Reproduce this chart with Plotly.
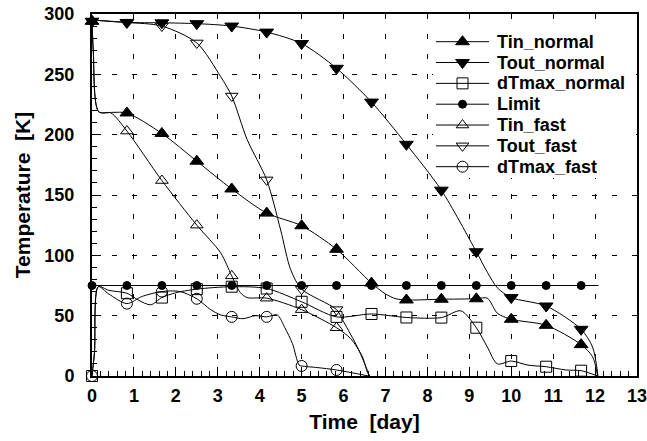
import plotly.graph_objects as go

# Marker positions along the time axis [day] (one marker every 20 h)
MARK_T = [0.0, 0.833, 1.667, 2.5, 3.333, 4.167, 5.0, 5.833, 6.667,
          7.5, 8.333, 9.167, 10.0, 10.833, 11.667]

# ---- normal cool-down -------------------------------------------------
tin_normal_marks = [294, 218, 201, 178, 155, 135, 124.5, 105, 77,
                    63, 63.6, 64, 47, 42, 26]
tin_normal_t = [0, 0.03, 0.16, 0.5, 0.833, 1.667, 2.5, 3.333, 4.167, 5.0,
                5.833, 6.667, 7.0, 7.25, 7.5, 8.333, 9.167, 9.43, 9.67,
                10.0, 10.833, 11.667, 11.94, 12.06]
tin_normal_T = [295, 270, 219, 218.5, 218, 201, 178, 155, 135, 124.5,
                105, 77, 68, 64, 63, 63.6, 64, 64.5, 52,
                47, 42, 26, 16, 0]

tout_normal_marks = [294, 293, 292.7, 292, 290, 285, 275.5, 255, 227,
                     192, 154, 103, 65, 58, 38.7]
tout_normal_t = [0, 0.833, 1.667, 2.5, 3.333, 4.167, 5.0, 5.833, 6.667,
                 7.5, 8.333, 9.167, 9.43, 9.67, 10.0, 10.833, 11.667,
                 11.94, 12.07]
tout_normal_T = [295, 293, 292.7, 292, 290, 285, 275.5, 255, 227,
                 192, 154, 103, 86, 73, 65, 58, 38.7,
                 24, 0]

dtmax_normal_marks = [0, 68.6, 65, 72, 74, 72.5, 61.5, 49, 51.4,
                      48.5, 48.4, 40, 12.4, 7.7, 4.4]
dtmax_normal_t = [0, 0.06, 0.15, 0.4, 0.833, 1.1, 1.4, 1.667, 2.0, 2.5,
                  3.333, 4.167, 5.0, 5.833, 6.667, 7.5, 8.333, 8.8, 9.167,
                  9.43, 9.67, 10.0, 10.4, 10.833, 11.3, 11.667, 12.06]
dtmax_normal_T = [0, 20, 74, 71, 68.6, 63, 59, 65, 69, 72,
                  74, 72.5, 61.5, 49, 51.4, 48.5, 48.4, 54, 40,
                  24, 10, 12.4, 9, 7.7, 5, 4.4, 0]

# ---- allowable temperature limit -------------------------------------
limit_marks = [75] * 15
limit_t = [0, 12.08]
limit_T = [75, 75]

# ---- fast cool-down ---------------------------------------------------
tin_fast_marks = [294, 203, 162, 125, 83, 64.5, 55, 40]
tin_fast_t = [0, 0.03, 0.16, 0.45, 0.833, 1.667, 2.5, 3.07, 3.333, 3.54,
              3.7, 4.167, 5.0, 5.833, 6.17, 6.45, 6.57, 6.62]
tin_fast_T = [295, 270, 219, 218, 203, 162, 125, 102, 83, 69,
              65, 64.5, 55, 40, 31, 16, 3, 0]

tout_fast_marks = [294, 293, 290, 276, 232, 162.5, 72, 55]
tout_fast_t = [0, 0.833, 1.667, 2.5, 3.07, 3.333, 3.7, 4.167, 4.5, 4.74,
               5.0, 5.833, 6.0, 6.33, 6.53, 6.62]
tout_fast_T = [295, 293, 290, 276, 248, 232, 196, 162.5, 121, 88,
               72, 55, 45, 24, 8, 0]

dtmax_fast_marks = [0, 60, 70, 64, 49, 49, 8.3, 5]
dtmax_fast_t = [0, 0.06, 0.15, 0.4, 0.833, 1.2, 1.667, 2.1, 2.5, 2.83,
                3.07, 3.333, 3.6, 3.9, 4.167, 4.42, 4.6, 4.78, 4.94, 5.0,
                5.37, 5.833, 6.6]
dtmax_fast_T = [0, 20, 74, 68, 60, 66, 70, 70, 64, 55,
                50.6, 49, 47.5, 50, 49, 50.6, 40, 27, 9, 8.3,
                7, 5, 0]

FONT = "Liberation Sans, Arial, sans-serif"

series = [
    ("Tin_normal", tin_normal_t, tin_normal_T, tin_normal_marks,
     "triangle-up", 12),
    ("Tout_normal", tout_normal_t, tout_normal_T, tout_normal_marks,
     "triangle-down", 12),
    ("dTmax_normal", dtmax_normal_t, dtmax_normal_T, dtmax_normal_marks,
     "square-open", 11),
    ("Limit", limit_t, limit_T, limit_marks,
     "circle", 8),
    ("Tin_fast", tin_fast_t, tin_fast_T, tin_fast_marks,
     "triangle-up-open", 11),
    ("Tout_fast", tout_fast_t, tout_fast_T, tout_fast_marks,
     "triangle-down-open", 11),
    ("dTmax_fast", dtmax_fast_t, dtmax_fast_T, dtmax_fast_marks,
     "circle-open", 11),
]

# page / plot-area geometry in pixels
W, H = 647, 441
ML, MR, MT, MB = 92, 10, 14, 65
PW, PH = W - ML - MR, H - MT - MB


def px_x(px):
    return (px - ML) / PW


def px_y(py):
    return 1 - (py - MT) / PH


fig = go.Figure()

for name, ct, cT, marks, sym, size in series:
    # smooth curve through the sampled points
    fig.add_trace(go.Scatter(
        x=ct, y=cT, mode="lines",
        line=dict(color="black", width=1, shape="spline", smoothing=0.8),
        showlegend=False, hoverinfo="skip", cliponaxis=False))
    # symbols at the 20-hour marks
    fig.add_trace(go.Scatter(
        x=MARK_T[:len(marks)], y=marks, mode="markers",
        marker=dict(symbol=sym, size=size, color="black",
                    line=dict(color="black", width=1)),
        showlegend=False, cliponaxis=False, name=name))

# ---- legend panel inside the plot, top right --------------------------
LEG_X0, LEG_X1 = 433, 636          # white panel
LEG_Y0, LEG_Y1 = 30, 178
ROW0, ROW_STEP = 41.7, 20.83       # row centres
LINE_X0, LINE_X1, TEXT_X = 436, 489, 495

# white panel as a filled trace so it hides the grid but stays under symbols
fig.add_trace(go.Scatter(
    x=[px_x(LEG_X0), px_x(LEG_X1), px_x(LEG_X1), px_x(LEG_X0), px_x(LEG_X0)],
    y=[px_y(LEG_Y0), px_y(LEG_Y0), px_y(LEG_Y1), px_y(LEG_Y1), px_y(LEG_Y0)],
    mode="lines", fill="toself", fillcolor="white", line=dict(width=0),
    xaxis="x2", yaxis="y2", showlegend=False, hoverinfo="skip"))

for i, (name, _, _, _, sym, size) in enumerate(series):
    yr = px_y(ROW0 + i * ROW_STEP)
    fig.add_trace(go.Scatter(
        x=[px_x(LINE_X0), px_x(LINE_X1)], y=[yr, yr], mode="lines",
        line=dict(color="black", width=1),
        xaxis="x2", yaxis="y2", showlegend=False, hoverinfo="skip",
        cliponaxis=False))
    fig.add_trace(go.Scatter(
        x=[px_x((LINE_X0 + LINE_X1) / 2)], y=[yr], mode="markers",
        xaxis="x2", yaxis="y2", showlegend=False, hoverinfo="skip",
        cliponaxis=False,
        marker=dict(symbol=sym, size=size, color="black",
                    line=dict(color="black", width=1))))
    fig.add_annotation(
        x=px_x(TEXT_X), y=yr, xref="paper", yref="paper",
        text=name, showarrow=False, xanchor="left", yanchor="middle",
        font=dict(family=FONT, size=18, color="black", weight="bold"))

axis_common = dict(
    showline=True, linecolor="black", linewidth=2, mirror=True,
    ticks="inside", tickcolor="black", tickwidth=1, ticklen=9,
    showgrid=True, gridcolor="black", gridwidth=1, griddash="5px,15px",
    zeroline=False, automargin=False, ticklabeloverflow="allow",
    tickfont=dict(family=FONT, size=18, color="black", weight="bold"),
)

fig.update_xaxes(
    range=[0, 13], dtick=1, tick0=0, ticklabelstandoff=2,
    minor=dict(dtick=0.2, ticks="inside", ticklen=5, tickcolor="black",
               showgrid=False),
    title=dict(text="Time  [day]", standoff=10,
               font=dict(family=FONT, size=21, color="black", weight="bold")),
    **axis_common)

fig.update_yaxes(
    range=[0, 300], dtick=50, tick0=0, ticklabelstandoff=12,
    minor=dict(dtick=10, ticks="inside", ticklen=5, tickcolor="black",
               showgrid=False),
    title=dict(text="Temperature  [K]", standoff=8,
               font=dict(family=FONT, size=21, color="black", weight="bold")),
    **axis_common)

fig.update_layout(
    width=W, height=H,
    margin=dict(l=ML, r=MR, t=MT, b=MB),
    paper_bgcolor="white", plot_bgcolor="white",
    font=dict(family=FONT, color="black"),
    showlegend=False,
    xaxis2=dict(overlaying="x", range=[0, 1], visible=False),
    yaxis2=dict(overlaying="y", range=[0, 1], visible=False),
)

fig.write_html("out.html")
